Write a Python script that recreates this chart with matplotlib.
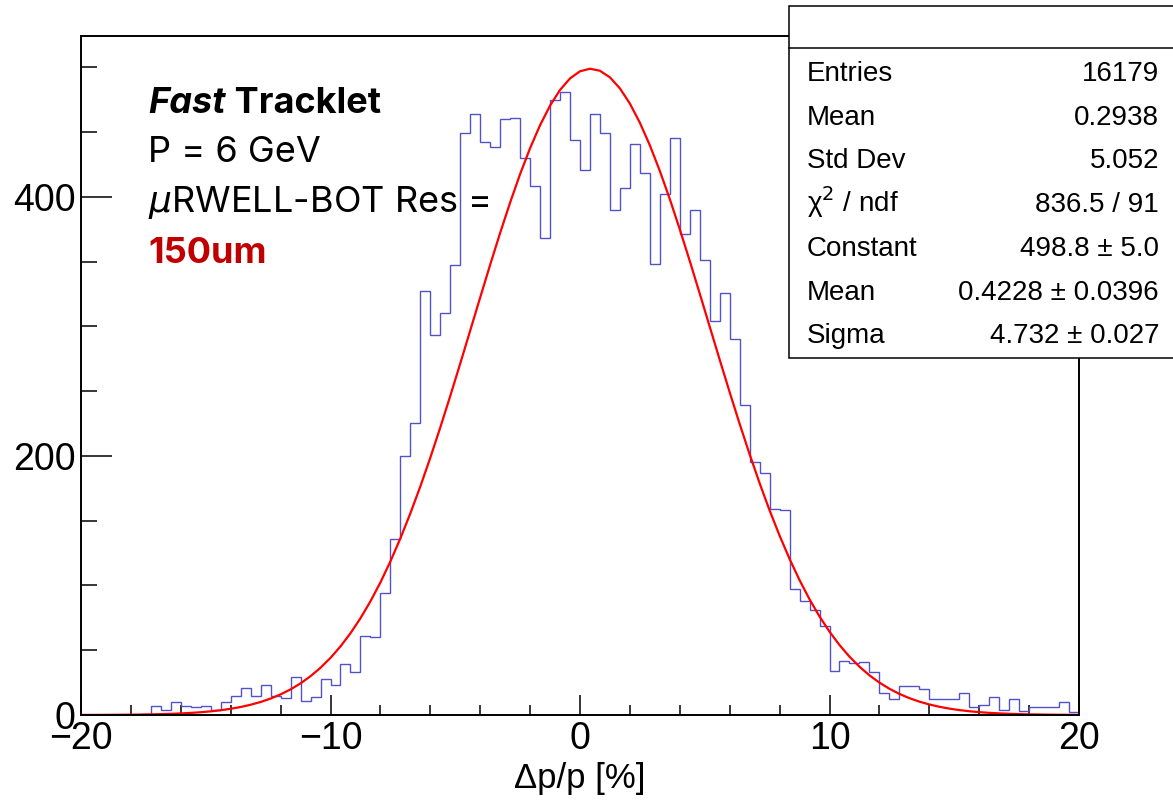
import numpy as np
import matplotlib
matplotlib.use("Agg")
import matplotlib.pyplot as plt
from matplotlib.patches import Rectangle
from matplotlib.lines import Line2D

plt.rcParams['font.family'] = ['Liberation Sans', 'DejaVu Sans']

# histogram: 100 bins from -20 to 20
x_lo, x_hi, n_bins = -20.0, 20.0, 100
counts = [0, 0, 0, 0, 0, 0, 1, 7, 4, 10,
          7, 6, 7, 4, 10, 15, 21, 15, 23, 15,
          13, 29, 11, 14, 28, 23, 39, 33, 61, 60,
          94, 136, 200, 225, 327, 293, 310, 347, 449, 464,
          442, 438, 460, 461, 430, 408, 368, 475, 481, 444,
          421, 464, 449, 390, 407, 441, 418, 348, 402, 445,
          371, 390, 351, 304, 326, 290, 239, 195, 187, 159,
          158, 97, 88, 81, 69, 34, 42, 40, 41, 33,
          17, 12, 22, 22, 20, 12, 12, 12, 17, 6,
          8, 14, 4, 12, 3, 6, 6, 6, 10, 2]

# gaussian fit result
fit_const, fit_mean, fit_sigma = 498.8, 0.4228, 4.732

stat_labels = ["Entries", "Mean", "Std Dev", "\u03c7$^{2}$ / ndf", "Constant", "Mean", "Sigma"]
stat_values = ["16179", "0.2938", "5.052", "836.5 / 91",
               "498.8 \u00b1 5.0", "0.4228 \u00b1 0.0396", "4.732 \u00b1 0.027"]

W, H = 1173, 801
fig = plt.figure(figsize=(W / 100, H / 100), dpi=100)
ax = fig.add_axes([81 / W, 1 - 715 / H, (1079 - 81) / W, (715 - 36.4) / H])

edges = np.linspace(x_lo, x_hi, n_bins + 1)
ax.stairs(counts, edges, color="#5252c8", linewidth=1.0, zorder=2)

xf = np.linspace(x_lo, x_hi, 101)
yf = fit_const * np.exp(-0.5 * ((xf - fit_mean) / fit_sigma) ** 2)
ax.plot(xf, yf, color="red", linewidth=1.6, zorder=3)

ax.set_xlim(x_lo, x_hi)
ax.set_ylim(0, fit_const * 1.05)

ax.set_xticks([-20, -10, 0, 10, 20])
ax.set_xticklabels(["\u221220", "\u221210", "0", "10", "20"])
ax.set_xticks(np.arange(-18, 20, 2), minor=True)
ax.set_yticks([0, 200, 400])
ax.set_yticks(np.arange(50, 520, 50), minor=True)

ax.tick_params(axis='both', which='both', direction='in', width=1.1, color='black')
ax.tick_params(axis='x', which='major', length=14.4, labelsize=27, pad=4)
ax.tick_params(axis='x', which='minor', length=7.2)
ax.tick_params(axis='y', which='major', length=22.3, labelsize=27, pad=4)
ax.tick_params(axis='y', which='minor', length=11.5)
for s in ax.spines.values():
    s.set_linewidth(1.4)
    s.set_zorder(4)

ax.set_xlabel("\u0394p/p [%]", fontsize=25, labelpad=4)

# annotation text
def fy(y):
    return 1 - y / H

note_font = ['Inter', 'DejaVu Sans']
note_size = 26
t = fig.text(148 / W, fy(112.7), "Fast", fontsize=note_size, fontweight='bold', fontstyle='italic',
             family=note_font, va='baseline')
ax.annotate(" Tracklet", xy=(1, 0), xycoords=t, fontsize=note_size, fontweight='bold',
            family=note_font, va='bottom', ha='left', annotation_clip=False)
fig.text(148 / W, fy(162), "P = 6 GeV", fontsize=note_size, family=note_font, va='baseline')
fig.text(148 / W, fy(212), r"$\mu$RWELL-BOT Res =", fontsize=note_size, family=note_font,
         va='baseline')
fig.text(148 / W, fy(263), "150um", fontsize=note_size, fontweight='bold', color="#c00000",
         family=note_font, va='baseline')

# stats box
box = Rectangle((789 / W, fy(358)), (1190 - 789) / W, (358 - 6) / H, transform=fig.transFigure,
                facecolor='white', edgecolor='black', linewidth=1.1, zorder=5, clip_on=False)
fig.add_artist(box)
fig.add_artist(Line2D([789 / W, 1.0], [fy(48), fy(48)], transform=fig.transFigure,
                      color='black', linewidth=1.1, zorder=6))
for i, (lab, val) in enumerate(zip(stat_labels, stat_values)):
    yb = fy(81 + 43.7 * i)
    fig.text(807 / W, yb, lab, fontsize=20, va='baseline', ha='left', zorder=7)
    fig.text(1159 / W, yb, val, fontsize=20, va='baseline', ha='right', zorder=7)

fig.savefig("out.png", dpi=100)
